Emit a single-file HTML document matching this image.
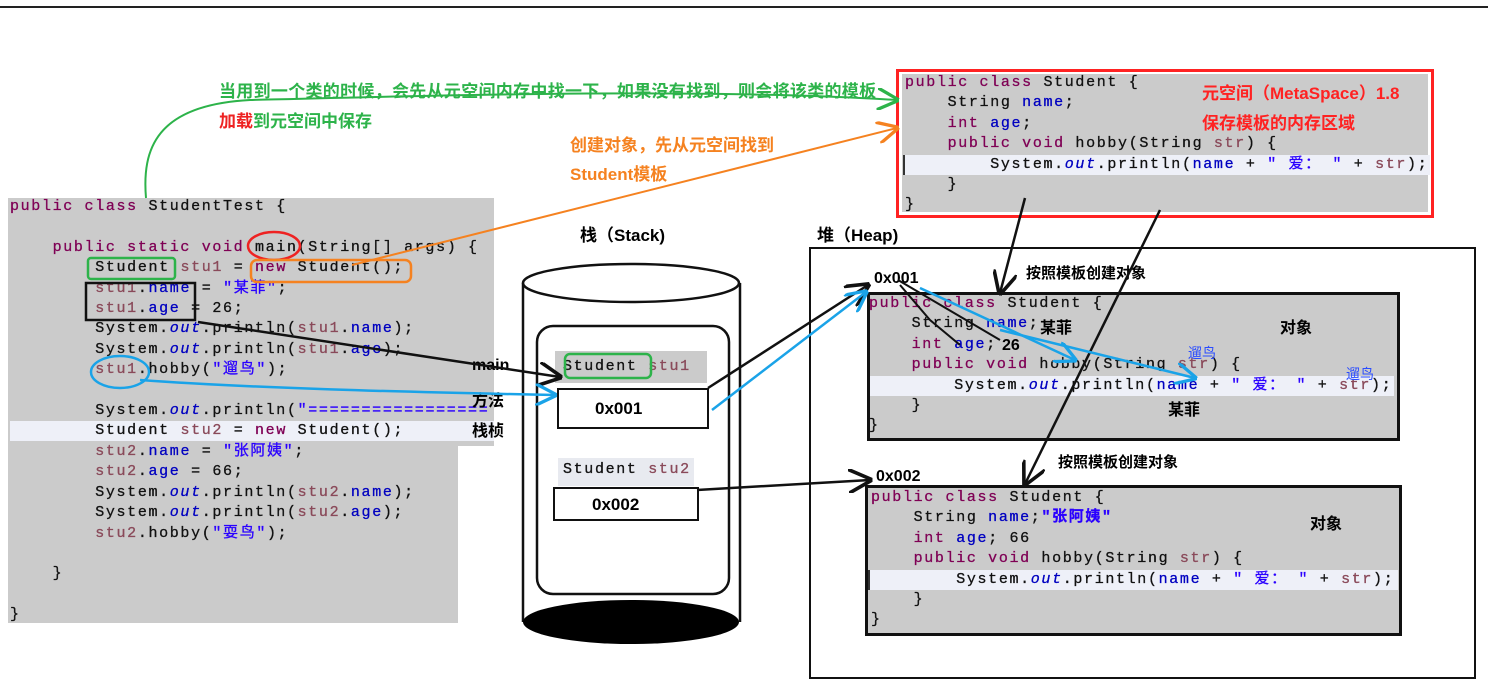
<!DOCTYPE html>
<html><head><meta charset="utf-8"><style>
body{margin:0;width:1488px;height:697px;background:#fff;position:relative;overflow:hidden;font-family:"Liberation Sans","Noto Sans CJK SC",sans-serif}
.a{position:absolute}
.code{font-family:"Liberation Mono","Noto Sans CJK SC",monospace;font-size:15px;letter-spacing:1.65px;color:#111;white-space:pre;line-height:20.4px;-webkit-text-stroke:0.3px currentColor}
.k{color:#7f0055}.v{color:#8a4a5a}.f{color:#0000c0}.s{color:#2a00ff}.i{color:#0000c0;font-style:italic}
.b{font-weight:bold}
</style></head><body>
<div class="a" style="left:0;top:6px;width:1488px;height:2px;background:#222"></div>

<div class="a" style="left:8px;top:198px;width:486px;height:248px;background:#cbcbcb"></div>
<div class="a" style="left:8px;top:446px;width:450px;height:177px;background:#cbcbcb"></div>
<div class="a" style="left:10px;top:421px;width:484px;height:20px;background:#eef0f8"></div>
<div class="a code" style="left:10px;top:197px"><span class="k">public class</span> StudentTest {

    <span class="k">public static void</span> main(String[] args) {
        Student <span class="v">stu1</span> = <span class="k">new</span> Student();
        <span class="v">stu1</span>.<span class="f">name</span> = <span class="s">"某菲"</span>;
        <span class="v">stu1</span>.<span class="f">age</span> = 26;
        System.<span class="i">out</span>.println(<span class="v">stu1</span>.<span class="f">name</span>);
        System.<span class="i">out</span>.println(<span class="v">stu1</span>.<span class="f">age</span>);
        <span class="v">stu1</span>.hobby(<span class="s">"遛鸟"</span>);

        System.<span class="i">out</span>.println(<span class="s">"=================</span>
        Student <span class="v">stu2</span> = <span class="k">new</span> Student();
        <span class="v">stu2</span>.<span class="f">name</span> = <span class="s">"张阿姨"</span>;
        <span class="v">stu2</span>.<span class="f">age</span> = 66;
        System.<span class="i">out</span>.println(<span class="v">stu2</span>.<span class="f">name</span>);
        System.<span class="i">out</span>.println(<span class="v">stu2</span>.<span class="f">age</span>);
        <span class="v">stu2</span>.hobby(<span class="s">"耍鸟"</span>);

    }

}</div>

<div class="a" style="left:896px;top:69px;width:532px;height:143px;border:3px solid #f22;background:#fff"></div>
<div class="a" style="left:902px;top:74px;width:526px;height:138px;background:#cbcbcb"></div>
<div class="a" style="left:903px;top:155px;width:525px;height:20px;background:#eef0f8;border-left:2px solid #333"></div>
<div class="a code" style="left:905px;top:73px"><span class="k">public class</span> Student {
    String <span class="f">name</span>;
    <span class="k">int</span> <span class="f">age</span>;
    <span class="k">public void</span> hobby(String <span class="v">str</span>) {
        System.<span class="i">out</span>.println(<span class="f">name</span> + <span class="s">" 爱： "</span> + <span class="v">str</span>);
    }
}</div>
<div class="a b" style="left:1202px;top:79px;color:#f22;font-size:17px">元空间（MetaSpace）1.8</div>
<div class="a b" style="left:1202px;top:109px;color:#f22;font-size:17px">保存模板的内存区域</div>

<div class="a b" style="left:219px;top:77px;color:#2db34a;font-size:17px;letter-spacing:0.3px">当用到一个类的时候，会先从元空间内存中找一下，如果没有找到，则会将该类的模板</div>
<div class="a b" style="left:219px;top:107px;color:#2db34a;font-size:17px"><span style="color:#e22">加载</span>到元空间中保存</div>
<div class="a b" style="left:570px;top:131px;color:#f58220;font-size:17px">创建对象，先从元空间找到</div>
<div class="a b" style="left:570px;top:160px;color:#f58220;font-size:17px">Student模板</div>
<div class="a b" style="left:580px;top:221px;font-size:17px">栈（Stack)</div>
<div class="a b" style="left:817px;top:221px;font-size:17px">堆（Heap)</div>
<div class="a b" style="left:472px;top:357px;font-size:16px">main</div>
<div class="a b" style="left:472px;top:387px;font-size:16px">方法</div>
<div class="a b" style="left:472px;top:417px;font-size:16px">栈桢</div>

<div class="a" style="left:809px;top:247px;width:663px;height:428px;border:2px solid #111"></div>
<div class="a" style="left:867px;top:292px;width:527px;height:143px;border:3px solid #111;background:#cbcbcb"></div>
<div class="a" style="left:870px;top:376px;width:524px;height:20px;background:#eef0f8"></div>
<div class="a code" style="left:869px;top:294px"><span class="k">public class</span> Student {
    String <span class="f">name</span>;
    <span class="k">int</span> <span class="f">age</span>;
    <span class="k">public void</span> hobby(String <span class="v">str</span>) {
        System.<span class="i">out</span>.println(<span class="f">name</span> + <span class="s">" 爱： "</span> + <span class="v">str</span>);
    }
}</div>
<div class="a b" style="left:1040px;top:314px;font-size:16px">某菲</div>
<div class="a b" style="left:1002px;top:337px;font-size:16px">26</div>
<div class="a b" style="left:1280px;top:314px;font-size:16px">对象</div>
<div class="a" style="left:1188px;top:343px;font-size:14px;color:#2a4cff">遛鸟</div>
<div class="a" style="left:1346px;top:364px;font-size:14px;color:#2a4cff">遛鸟</div>
<div class="a b" style="left:1168px;top:396px;font-size:16px">某菲</div>
<div class="a b" style="left:874px;top:270px;font-size:16px">0x001</div>
<div class="a b" style="left:1026px;top:262px;font-size:15px">按照模板创建对象</div>
<div class="a b" style="left:1058px;top:451px;font-size:15px">按照模板创建对象</div>
<div class="a b" style="left:876px;top:468px;font-size:16px">0x002</div>

<div class="a" style="left:865px;top:485px;width:531px;height:145px;border:3px solid #111;background:#cbcbcb"></div>
<div class="a" style="left:868px;top:570px;width:528px;height:20px;background:#eef0f8;border-left:2px solid #333"></div>
<div class="a code" style="left:871px;top:488px"><span class="k">public class</span> Student {
    String <span class="f">name</span>;<span class="s b">"张阿姨"</span>
    <span class="k">int</span> <span class="f">age</span>; 66
    <span class="k">public void</span> hobby(String <span class="v">str</span>) {
        System.<span class="i">out</span>.println(<span class="f">name</span> + <span class="s">" 爱： "</span> + <span class="v">str</span>);
    }
}</div>
<div class="a b" style="left:1310px;top:510px;font-size:16px">对象</div>

<svg class="a" style="left:0;top:0" width="1488" height="697">
<line x1="523" y1="283" x2="523" y2="622" stroke="#111" stroke-width="2.5"/>
<line x1="740" y1="283" x2="740" y2="622" stroke="#111" stroke-width="2.5"/>
<ellipse cx="631" cy="283" rx="108" ry="19" fill="#fff" stroke="#111" stroke-width="2.5"/>
<ellipse cx="631" cy="622" rx="108" ry="22" fill="#000"/>
<rect x="537" y="326" width="192" height="268" rx="16" fill="#fff" stroke="#111" stroke-width="2.5"/>
<rect x="555" y="351" width="152" height="32" fill="#cbcbcb"/>
<rect x="558" y="458" width="136" height="28" fill="#e8eaf0"/>
</svg>
<div class="a code" style="left:563px;top:357px">Student <span class="v">stu1</span></div>
<div class="a code" style="left:563px;top:460px">Student <span class="v">stu2</span></div>
<div class="a b" style="left:557px;top:388px;width:148px;height:37px;border:2px solid #111;background:#fff;font-size:17px;line-height:37px;text-indent:36px">0x001</div>
<div class="a b" style="left:553px;top:487px;width:142px;height:30px;border:2px solid #111;background:#fff;font-size:17px;line-height:32px;text-indent:37px">0x002</div>

<svg class="a" style="left:0;top:0" width="1488" height="697" fill="none">
<defs>
<marker id="mg" viewBox="0 0 10 10" refX="9" refY="5" markerWidth="22" markerHeight="22" orient="auto" markerUnits="userSpaceOnUse"><path d="M0,0 L10,5 L0,10" fill="none" stroke="#2db34a" stroke-width="1.5"/></marker>
<marker id="mo" viewBox="0 0 10 10" refX="9" refY="5" markerWidth="22" markerHeight="22" orient="auto" markerUnits="userSpaceOnUse"><path d="M0,0 L10,5 L0,10" fill="none" stroke="#f58220" stroke-width="1.5"/></marker>
<marker id="mb" viewBox="0 0 10 10" refX="9" refY="5" markerWidth="24" markerHeight="24" orient="auto" markerUnits="userSpaceOnUse"><path d="M0,0 L10,5 L0,10" fill="none" stroke="#111" stroke-width="1.5"/></marker>
<marker id="mc" viewBox="0 0 10 10" refX="9" refY="5" markerWidth="22" markerHeight="22" orient="auto" markerUnits="userSpaceOnUse"><path d="M0,0 L10,5 L0,10" fill="none" stroke="#1aa3e8" stroke-width="1.5"/></marker>
</defs>
<ellipse cx="274" cy="246" rx="26" ry="14" stroke="#e22" stroke-width="2.5"/>
<rect x="251" y="260" width="160" height="22" rx="6" stroke="#f58220" stroke-width="2.5"/>
<rect x="88" y="258" width="87" height="21" rx="3" stroke="#2db34a" stroke-width="2.5"/>
<rect x="86" y="283" width="109" height="37" stroke="#111" stroke-width="2.5"/>
<ellipse cx="120" cy="372" rx="29" ry="16" stroke="#1aa3e8" stroke-width="2.5"/>
<rect x="565" y="354" width="86" height="24" rx="5" stroke="#2db34a" stroke-width="2.5"/>
<path d="M146,198 C142,150 155,105 250,100 C450,95 700,88 897,100" stroke="#2db34a" stroke-width="2" marker-end="url(#mg)"/>
<path d="M352,265 L897,128" stroke="#f58220" stroke-width="2" marker-end="url(#mo)"/>
<path d="M198,322 L560,377" stroke="#111" stroke-width="2.5" marker-end="url(#mb)"/>
<path d="M140,380 C250,388 400,392 555,395" stroke="#1aa3e8" stroke-width="2.5" marker-end="url(#mc)"/>
<path d="M708,388 L868,285" stroke="#111" stroke-width="2.5" marker-end="url(#mb)"/>
<path d="M712,410 L866,292" stroke="#1aa3e8" stroke-width="2.5" marker-end="url(#mc)"/>
<path d="M697,490 L870,480" stroke="#111" stroke-width="2.5" marker-end="url(#mb)"/>
<path d="M1025,198 L1000,293" stroke="#111" stroke-width="2.5" marker-end="url(#mb)"/>
<path d="M1160,210 L1025,484" stroke="#111" stroke-width="2.5" marker-end="url(#mb)"/>
<path d="M898,280 L1000,340" stroke="#111" stroke-width="2"/>
<path d="M900,285 L930,320 L960,345" stroke="#111" stroke-width="2"/>
<path d="M920,288 L1075,360" stroke="#1aa3e8" stroke-width="2.5" marker-end="url(#mc)"/>
<path d="M1000,330 L1195,378" stroke="#1aa3e8" stroke-width="2.5" marker-end="url(#mc)"/>
</svg>
</body></html>
